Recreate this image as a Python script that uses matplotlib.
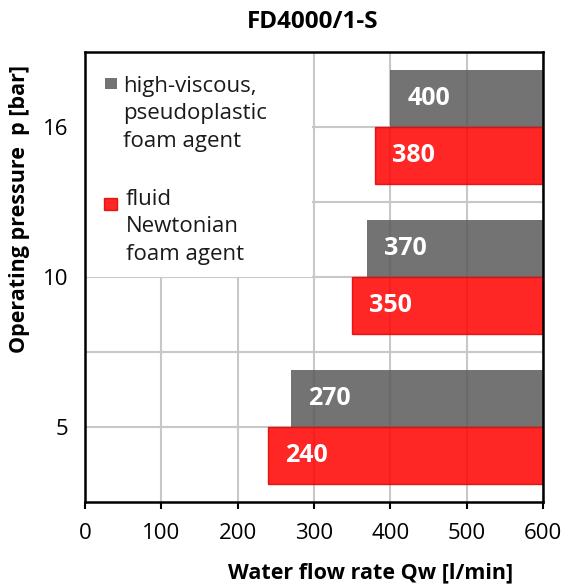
import matplotlib
matplotlib.use('Agg')
import matplotlib.pyplot as plt
from matplotlib.patches import Rectangle

# ---- data ----
pressure_labels = ['5', '10', '16']
high_viscous = [270, 370, 400]
fluid_newtonian = [240, 350, 380]
x_ticks = [0, 100, 200, 300, 400, 500, 600]
series_labels = ['high-viscous,\npseudoplastic\nfoam agent',
                 'fluid\nNewtonian\nfoam agent']
title = 'FD4000/1-S'
x_label = 'Water flow rate Qw [l/min]'
y_label = 'Operating pressure  p [bar]'

plt.rcParams['font.family'] = ['Open Sans', 'DejaVu Sans']

W, H = 568, 585
fig = plt.figure(figsize=(W / 100, H / 100), dpi=100)
ax = fig.add_axes([85 / W, 1 - 502 / H, 458 / W, 450 / H])

xmax = 600
ypos = list(range(len(pressure_labels)))
bh = 0.38
gray = '#5a5a5a'
red = '#ff0000'

ax.barh(ypos, [xmax - v for v in high_viscous], left=high_viscous, height=bh,
        align='edge', color=gray, alpha=0.85, zorder=3, linewidth=0)
ax.barh(ypos, [xmax - v for v in fluid_newtonian], left=fluid_newtonian, height=-bh,
        align='edge', color=red, alpha=0.85, edgecolor='#e00000', linewidth=1, zorder=3)

for y, v in zip(ypos, high_viscous):
    ax.text(v + 50, y + bh / 2, str(v), color='white', fontweight='bold',
            fontsize=18, ha='center', va='center', zorder=5)
for y, v in zip(ypos, fluid_newtonian):
    ax.text(v + 50, y - bh / 2, str(v), color='white', fontweight='bold',
            fontsize=18, ha='center', va='center', zorder=5)

ax.set_xlim(0, xmax)
ax.set_ylim(-0.5, 2.5)
ax.set_xticks(x_ticks)
ax.set_xticklabels([str(t) for t in x_ticks])
ax.set_yticks(ypos)
ax.set_yticklabels(pressure_labels)
ax.set_yticks([0.5, 1.5], minor=True)
ax.set_axisbelow(True)
ax.grid(which='both', color='#c8c8c8', linewidth=1.5)
ax.tick_params(axis='y', which='both', length=0, pad=12, labelsize=16)
ax.tick_params(axis='x', direction='out', length=5, width=1.5, pad=10,
               labelsize=16, color='black')
for s in ax.spines.values():
    s.set_linewidth(1.8)
    s.set_color('black')
    s.set_zorder(6)

# white legend box over grid
ax.add_patch(Rectangle((0, 1), 297, 1.6, facecolor='white', edgecolor='none', zorder=2))

def fx(px):
    return (px - 85) / 458

def fy(py):
    return 1 - (py - 52) / 450

ax.add_patch(Rectangle((fx(105), fy(89)), 12 / 458, 11 / 450, transform=ax.transAxes,
                       facecolor=gray, alpha=0.85, edgecolor='none', zorder=4))
ax.add_patch(Rectangle((fx(104), fy(210)), 13 / 458, 12 / 450, transform=ax.transAxes,
                       facecolor=red, alpha=0.85, edgecolor='#e00000', lw=1, zorder=4))
ax.text(fx(123), fy(114), series_labels[0], transform=ax.transAxes, fontsize=16,
        ha='left', va='center', linespacing=1.38, color='#1a1a1a', zorder=4)
ax.text(fx(126), fy(227), series_labels[1], transform=ax.transAxes, fontsize=16,
        ha='left', va='center', linespacing=1.38, color='#1a1a1a', zorder=4)

fig.text(313 / W, 1 - 22 / H, title, ha='center', va='center', fontsize=17.5,
         fontweight='bold')
ax.set_xlabel(x_label, fontsize=15.5, fontweight='bold')
ax.xaxis.set_label_coords(fx(371), fy(573))
ax.xaxis.label.set_va('center')
ax.set_ylabel(y_label, fontsize=15.5, fontweight='bold')
ax.yaxis.set_label_coords(fx(20), fy(209))
ax.yaxis.label.set_va('center')

fig.savefig('out.png', dpi=100)
